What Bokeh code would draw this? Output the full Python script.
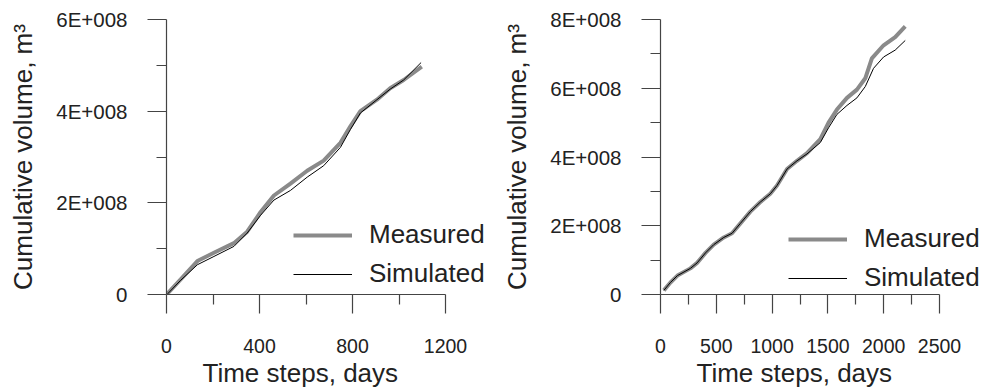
from bokeh.plotting import figure
from bokeh.models import Range1d, FixedTicker, Legend, LegendItem, Title
from bokeh.layouts import row
from bokeh.embed import file_html
from bokeh.resources import INLINE

# ---- Left panel data ----
left_meas_days = [4, 61, 133, 204, 290, 347, 405, 462, 533, 605, 676, 748, 791, 834, 905, 962, 1020, 1098]
left_meas_vol = [0.02e8, 0.33e8, 0.73e8, 0.91e8, 1.12e8, 1.37e8, 1.80e8, 2.16e8, 2.42e8, 2.70e8,
                 2.92e8, 3.31e8, 3.67e8, 4.00e8, 4.25e8, 4.50e8, 4.68e8, 4.97e8]
left_sim_days = [4, 61, 133, 204, 290, 347, 405, 462, 533, 605, 676, 748, 791, 834, 905, 962, 1020, 1095]
left_sim_vol = [0.01e8, 0.31e8, 0.65e8, 0.83e8, 1.05e8, 1.34e8, 1.73e8, 2.06e8, 2.27e8, 2.56e8,
                2.81e8, 3.21e8, 3.60e8, 3.96e8, 4.25e8, 4.48e8, 4.68e8, 5.06e8]

# ---- Right panel data ----
right_meas_days = [30, 89, 152, 268, 328, 403, 477, 567, 641, 716, 805, 895, 984, 1044, 1134, 1223,
                   1313, 1432, 1506, 1581, 1671, 1760, 1835, 1894, 1999, 2103, 2193]
right_meas_vol = [0.12e8, 0.35e8, 0.55e8, 0.76e8, 0.92e8, 1.21e8, 1.45e8, 1.66e8, 1.78e8, 2.07e8,
                  2.41e8, 2.69e8, 2.93e8, 3.17e8, 3.65e8, 3.89e8, 4.11e8, 4.52e8, 5.00e8, 5.38e8,
                  5.72e8, 5.96e8, 6.29e8, 6.87e8, 7.25e8, 7.49e8, 7.80e8]
right_sim_days = [30, 89, 152, 268, 328, 403, 477, 567, 641, 716, 805, 895, 984, 1044, 1134, 1223,
                  1313, 1432, 1506, 1581, 1671, 1760, 1835, 1909, 1999, 2103, 2193]
right_sim_vol = [0.12e8, 0.35e8, 0.55e8, 0.76e8, 0.92e8, 1.21e8, 1.45e8, 1.66e8, 1.78e8, 2.07e8,
                 2.41e8, 2.69e8, 2.93e8, 3.17e8, 3.65e8, 3.89e8, 4.09e8, 4.42e8, 4.85e8, 5.24e8,
                 5.50e8, 5.72e8, 6.05e8, 6.58e8, 6.91e8, 7.11e8, 7.39e8]

left_xticks = [0, 400, 800, 1200]
left_xminor = [200, 600, 1000]
left_yticks = [0, 2e8, 4e8, 6e8]
left_yminor = [1e8, 3e8, 5e8]
left_ylabels = ["0", "2E+008", "4E+008", "6E+008"]

right_xticks = [0, 500, 1000, 1500, 2000, 2500]
right_xminor = [250, 750, 1250, 1750, 2250]
right_yticks = [0, 2e8, 4e8, 6e8, 8e8]
right_yminor = [1e8, 3e8, 5e8, 7e8]
right_ylabels = ["0", "2E+008", "4E+008", "6E+008", "8E+008"]

series_names = ["Measured", "Simulated"]
x_title = "Time steps, days"
y_title = "Cumulative volume, m³"

FONT = "Liberation Sans"
TEXT = "#222222"
AXIS = "#444444"
GRAY = "#8a8a8a"

AXIS_PX = 279  # pixel length of the drawn x axis


def make_panel(width, border_left, xmax, ymax, xticks, xminor, yticks, yminor, ylabels,
               mdays, mvol, sdays, svol, legend_loc):
    frame_w = width - border_left
    x_end = xmax * frame_w / AXIS_PX
    p = figure(width=width, height=387, output_backend="svg", toolbar_location=None,
               x_range=Range1d(0, x_end), y_range=Range1d(0, ymax),
               min_border_left=border_left, min_border_right=0,
               min_border_top=19, min_border_bottom=90)
    p.outline_line_color = None
    p.xgrid.visible = False
    p.ygrid.visible = False
    p.background_fill_color = "white"
    p.border_fill_color = "white"

    r1 = p.line(mdays, mvol, line_color=GRAY, line_width=4)
    r2 = p.line(sdays, svol, line_color="black", line_width=1)

    for ax in (p.xaxis[0], p.yaxis[0]):
        ax.axis_line_color = AXIS
        ax.axis_line_width = 1.2
        ax.major_tick_line_color = AXIS
        ax.minor_tick_line_color = AXIS
        ax.major_tick_line_width = 1.2
        ax.minor_tick_line_width = 1.2
        ax.major_tick_in = 0
        ax.major_tick_out = 19
        ax.minor_tick_in = 0
        ax.minor_tick_out = 10
        ax.major_label_text_font = FONT
        ax.major_label_text_color = TEXT
        ax.axis_label_text_font = FONT
        ax.axis_label_text_font_size = "26px"
        ax.axis_label_text_font_style = "normal"
        ax.axis_label_text_color = TEXT

    p.xaxis[0].major_label_text_font_size = "19.5px"
    p.yaxis[0].major_label_text_font_size = "20.5px"
    p.xaxis[0].bounds = (0, xmax)
    p.xaxis[0].ticker = FixedTicker(ticks=xticks, minor_ticks=xminor)
    p.yaxis[0].ticker = FixedTicker(ticks=yticks, minor_ticks=yminor)
    p.yaxis[0].major_label_overrides = {t: l for t, l in zip(yticks, ylabels)}
    p.xaxis[0].major_label_overrides = {t: str(t) for t in xticks}
    p.yaxis[0].axis_label = y_title
    p.xaxis[0].major_label_standoff = 25
    p.yaxis[0].major_label_standoff = 20
    p.yaxis[0].axis_label_standoff = 15

    # x-axis title, centred under the drawn part of the axis
    p.add_layout(Title(text=x_title, align="left", offset=36, standoff=0,
                       text_font=FONT, text_font_size="26px", text_font_style="normal",
                       text_color=TEXT), "below")

    legend = Legend(items=[LegendItem(label=series_names[0], renderers=[r1]),
                           LegendItem(label=series_names[1], renderers=[r2])],
                    location=legend_loc, orientation="vertical",
                    label_text_font=FONT, label_text_font_size="26px", label_text_color=TEXT,
                    glyph_width=59, glyph_height=30, label_height=30, label_standoff=17,
                    spacing=8, padding=0, margin=0,
                    border_line_alpha=0, background_fill_alpha=0)
    p.add_layout(legend, "center")
    return p


p1 = make_panel(490, 166, 1200, 6e8, left_xticks, left_xminor, left_yticks, left_yminor, left_ylabels,
                left_meas_days, left_meas_vol, left_sim_days, left_sim_vol, (127, 5))
p2 = make_panel(492, 170, 2500, 8e8, right_xticks, right_xminor, right_yticks, right_yminor, right_ylabels,
                right_meas_days, right_meas_vol, right_sim_days, right_sim_vol, (128, 1))

layout = row(p1, p2)
open("out.html", "w").write(file_html(layout, INLINE))
